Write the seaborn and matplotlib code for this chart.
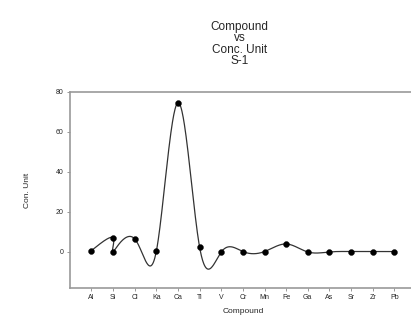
import numpy as np
import pandas as pd
import matplotlib
matplotlib.use('Agg')
import matplotlib.pyplot as plt
import seaborn as sns

# Categories on the x axis
compounds = ['Al', 'Si', 'Cl', 'Ka', 'Ca', 'Ti', 'V', 'Cr', 'Mn', 'Fe',
             'Ga', 'As', 'Sr', 'Zr', 'Pb']
# Measured points, in drawing order (Si has two readings)
point_compound = ['Al', 'Si', 'Si', 'Cl', 'Ka', 'Ca', 'Ti', 'V', 'Cr', 'Mn',
                  'Fe', 'Ga', 'As', 'Sr', 'Zr', 'Pb']
conc_unit = [0.7, 7.0, 0.0, 6.5, 0.5, 74.6, 2.3, 0.0, 0.2, 0.2,
             4.0, 0.0, 0.0, 0.2, 0.2, 0.2]
y_ticks = [0, 20, 40, 60, 80]


def natural_spline(t, y, tt):
    t = np.asarray(t, float)
    y = np.asarray(y, float)
    n = len(t)
    h = np.diff(t)
    A = np.zeros((n, n))
    b = np.zeros(n)
    A[0, 0] = A[-1, -1] = 1
    for i in range(1, n - 1):
        A[i, i - 1] = h[i - 1]
        A[i, i] = 2 * (h[i - 1] + h[i])
        A[i, i + 1] = h[i]
        b[i] = 6 * ((y[i + 1] - y[i]) / h[i] - (y[i] - y[i - 1]) / h[i - 1])
    M = np.linalg.solve(A, b)
    idx = np.clip(np.searchsorted(t, tt) - 1, 0, n - 2)
    t0, t1 = t[idx], t[idx + 1]
    hh = t1 - t0
    return (M[idx] * (t1 - tt) ** 3 / (6 * hh) + M[idx + 1] * (tt - t0) ** 3 / (6 * hh)
            + (y[idx] / hh - M[idx] * hh / 6) * (t1 - tt)
            + (y[idx + 1] / hh - M[idx + 1] * hh / 6) * (tt - t0))


pts = pd.DataFrame({'compound': point_compound, 'conc': conc_unit})
pts['x'] = pts['compound'].map({c: i for i, c in enumerate(compounds)})

# smooth curve through the points (parametric spline over point order)
t = np.arange(len(pts))
tt = np.linspace(0, len(pts) - 1, 800)
curve = pd.DataFrame({'t': tt,
                      'x': natural_spline(t, pts['x'], tt),
                      'y': natural_spline(t, pts['conc'], tt)})

sns.set_style("ticks")
plt.rcParams['font.family'] = ['Liberation Sans', 'DejaVu Sans']

fig = plt.figure(figsize=(4.11, 3.25), dpi=100)
ax = fig.add_axes([0.170, 0.114, 0.842, 0.603])

sns.lineplot(data=curve, x='x', y='y', sort=False, estimator=None,
             color='#333333', lw=0.9, ax=ax)
sns.scatterplot(data=pts, x='x', y='conc', color='black', s=18,
                edgecolor='black', linewidth=0.3, zorder=3, ax=ax)

ax.set_xlim(-1, 15)
ax.set_ylim(-18, 80)
ax.set_xticks(range(len(compounds)))
ax.set_xticklabels(compounds)
ax.set_yticks(y_ticks)
ax.tick_params(labelsize=5, length=2.5, width=0.6, color='#888888', pad=2)

for side in ['left', 'top', 'bottom']:
    ax.spines[side].set_color('#999999')
    ax.spines[side].set_linewidth(1.2)
ax.spines['right'].set_visible(False)
ax.spines['top'].set_visible(True)

ax.set_xlabel('Compound', fontsize=6, labelpad=5)
ax.set_ylabel('Con. Unit', fontsize=6, labelpad=18)
ax.set_title('Compound\nvs\nConc. Unit\nS-1', fontsize=8.5, pad=20,
             linespacing=0.95, x=0.49)

fig.savefig('out.png', dpi=100)
